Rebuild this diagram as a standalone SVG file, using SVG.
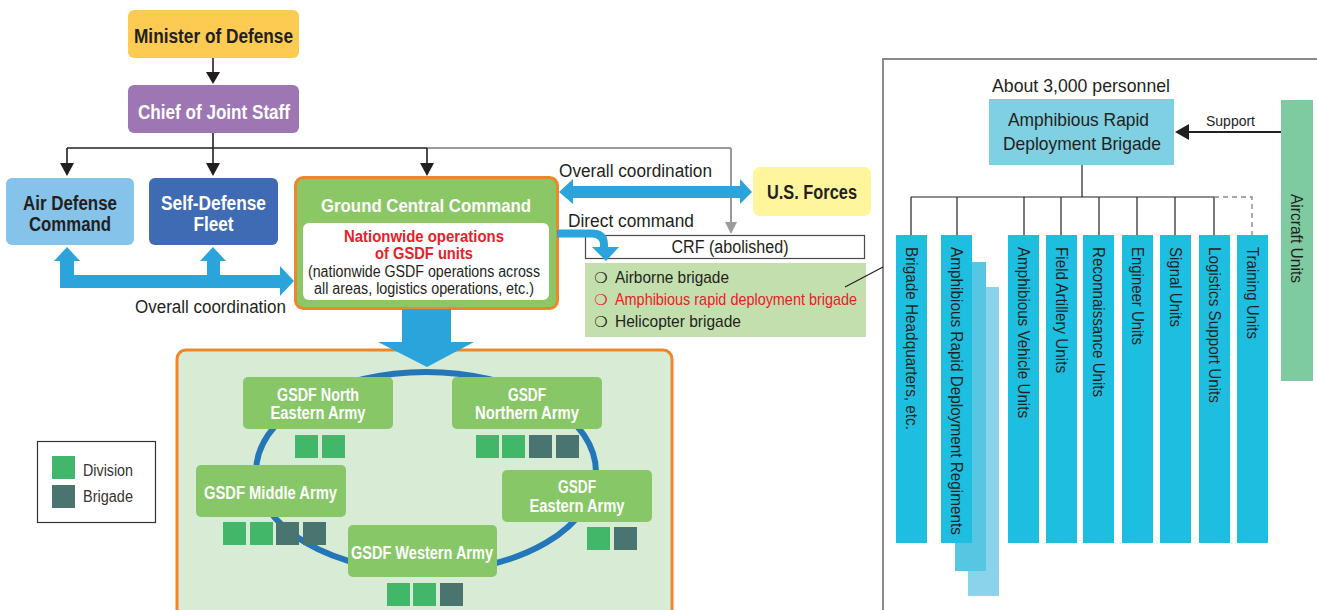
<svg xmlns="http://www.w3.org/2000/svg" width="1317" height="610" viewBox="0 0 1317 610">
<style>
text{font-family:"Liberation Sans Narrow","Liberation Sans",Arial,sans-serif;fill:#231F20;}
.b{font-weight:bold;}
.w{fill:#FFFFFF;}
.r{fill:#E8202A;}
.c{text-anchor:middle;}
.ln{stroke:#231F20;stroke-width:1.6;fill:none;}
.thin{stroke:#231F20;stroke-width:1.2;fill:none;}
.blue{fill:#2BA4DC;}
.col{fill:#1DBEE0;}
.army{fill:#88C767;}
.div{fill:#42B76A;}
.brg{fill:#497470;}
.sym{font-family:"DejaVu Sans",sans-serif;font-size:15px;}
</style>

<!-- bottom area background -->
<g id="ground-area">
  <rect x="177" y="350" width="495" height="280" rx="9" fill="#D8EBD5" stroke="#F0862A" stroke-width="3"/>
  <ellipse cx="426" cy="472" rx="170" ry="100" fill="none" stroke="#2377B8" stroke-width="6"/>
</g>

<g id="minister">
  <rect x="128" y="10" width="171" height="48" rx="6" fill="#FDCB52"/>
  <text class="b c" x="213.5" y="43" font-size="20" textLength="159" lengthAdjust="spacingAndGlyphs">Minister of Defense</text>
</g>
<g id="chief">
  <rect x="128" y="85" width="171" height="48" rx="6" fill="#9E76B4"/>
  <text class="b c w" x="214" y="119" font-size="20" textLength="152" lengthAdjust="spacingAndGlyphs">Chief of Joint Staff</text>
</g>
<g id="air-defense">
  <rect x="6" y="178" width="128" height="67" rx="6" fill="#85C3EA"/>
  <text class="b c" x="70" y="210" font-size="20" textLength="94" lengthAdjust="spacingAndGlyphs">Air Defense</text>
  <text class="b c" x="70" y="231" font-size="20" textLength="82" lengthAdjust="spacingAndGlyphs">Command</text>
</g>
<g id="sdf">
  <rect x="149" y="178" width="129" height="67" rx="6" fill="#3F6BB5"/>
  <text class="b c w" x="213.5" y="210" font-size="20" textLength="105" lengthAdjust="spacingAndGlyphs">Self-Defense</text>
  <text class="b c w" x="213.5" y="231" font-size="20" textLength="40" lengthAdjust="spacingAndGlyphs">Fleet</text>
</g>
<g id="ground-central">
  <rect x="295.5" y="177.5" width="262" height="131" rx="8" fill="#8BC765" stroke="#F0862A" stroke-width="3"/>
  <text class="b c w" x="426" y="212" font-size="19" textLength="210" lengthAdjust="spacingAndGlyphs">Ground Central Command</text>
  <rect x="303" y="223" width="246" height="77" rx="6" fill="#FFFFFF"/>
  <text class="b c r" x="424" y="242" font-size="17" textLength="160" lengthAdjust="spacingAndGlyphs">Nationwide operations</text>
  <text class="b c r" x="424" y="259" font-size="17" textLength="98" lengthAdjust="spacingAndGlyphs">of GSDF units</text>
  <text class="c" x="424" y="277" font-size="16" textLength="232" lengthAdjust="spacingAndGlyphs">(nationwide GSDF operations across</text>
  <text class="c" x="424" y="294" font-size="16" textLength="220" lengthAdjust="spacingAndGlyphs">all areas, logistics operations, etc.)</text>
</g>
<g id="labels">
  <text x="135" y="313" font-size="18" textLength="151" lengthAdjust="spacingAndGlyphs">Overall coordination</text>
  <text x="559" y="177" font-size="18" textLength="153" lengthAdjust="spacingAndGlyphs">Overall coordination</text>
  <text x="568" y="227" font-size="18" textLength="126" lengthAdjust="spacingAndGlyphs">Direct command</text>
</g>
<g id="us-forces">
  <rect x="753" y="167" width="118" height="49" rx="7" fill="#FFF59D"/>
  <text class="b c" x="812" y="199" font-size="20" textLength="90" lengthAdjust="spacingAndGlyphs">U.S. Forces</text>
</g>
<g id="crf">
  <rect x="585.5" y="235.5" width="279" height="23" fill="#FFFFFF" stroke="#4A4A4A" stroke-width="1.2"/>
  <text class="c" x="730" y="253" font-size="18" textLength="117" lengthAdjust="spacingAndGlyphs">CRF (abolished)</text>
</g>
<g id="crf-units">
  <rect x="585" y="263" width="281" height="74" fill="#C3DFAD"/>
  <text class="sym" x="594" y="283">❍</text>
  <text x="615" y="283" font-size="17" textLength="114" lengthAdjust="spacingAndGlyphs">Airborne brigade</text>
  <text class="sym" x="594" y="305" style="fill:#E8202A">❍</text>
  <text class="r" x="615" y="305" font-size="17" textLength="242" lengthAdjust="spacingAndGlyphs">Amphibious rapid deployment brigade</text>
  <text class="sym" x="594" y="327">❍</text>
  <text x="615" y="327" font-size="17" textLength="126" lengthAdjust="spacingAndGlyphs">Helicopter brigade</text>
</g>

<!-- right panel -->
<g id="panel">
  <rect x="883" y="59" width="460" height="580" fill="none" stroke="#8A8A8A" stroke-width="2"/>
  <text class="c" x="1081" y="92" font-size="19" textLength="178" lengthAdjust="spacingAndGlyphs">About 3,000 personnel</text>
</g>
<g id="ardb">
  <rect x="989" y="99" width="185" height="66" fill="#7ED0E2"/>
  <text class="c" x="1078.5" y="126" font-size="19" textLength="141" lengthAdjust="spacingAndGlyphs">Amphibious Rapid</text>
  <text class="c" x="1082" y="150" font-size="19" textLength="158" lengthAdjust="spacingAndGlyphs">Deployment Brigade</text>
</g>
<g id="support-label">
  <text x="1206" y="126" font-size="14" textLength="49" lengthAdjust="spacingAndGlyphs">Support</text>
</g>
<g id="aircraft">
  <rect x="1281" y="100" width="32" height="281" fill="#7ECBA1"/>
  <text transform="translate(1297,194) rotate(90)" x="0" y="6" font-size="17" textLength="89" lengthAdjust="spacingAndGlyphs">Aircraft Units</text>
</g>
<g id="col-hq">
  <rect class="col" x="896" y="235" width="31" height="308"/>
  <text transform="translate(911.5,247) rotate(90)" x="0" y="6" font-size="17" textLength="183" lengthAdjust="spacingAndGlyphs">Brigade Headquarters, etc.</text>
</g>
<g id="col-regiments">
  <rect x="968" y="287" width="31" height="309" fill="#8AD3EA"/>
  <rect x="955" y="262" width="31" height="309" fill="#57C6E3"/>
  <rect class="col" x="941" y="235" width="31" height="308"/>
  <text transform="translate(956.5,247) rotate(90)" x="0" y="6" font-size="17" textLength="288" lengthAdjust="spacingAndGlyphs">Amphibious Rapid Deployment Regiments</text>
</g>
<g id="col-vehicle">
  <rect class="col" x="1008" y="235" width="31" height="308"/>
  <text transform="translate(1023.5,247) rotate(90)" x="0" y="6" font-size="17" textLength="171" lengthAdjust="spacingAndGlyphs">Amphibious Vehicle Units</text>
</g>
<g id="col-artillery">
  <rect class="col" x="1046" y="235" width="31" height="308"/>
  <text transform="translate(1061.5,247) rotate(90)" x="0" y="6" font-size="17" textLength="126" lengthAdjust="spacingAndGlyphs">Field Artillery Units</text>
</g>
<g id="col-recon">
  <rect class="col" x="1083" y="235" width="31" height="308"/>
  <text transform="translate(1098.5,247) rotate(90)" x="0" y="6" font-size="17" textLength="150" lengthAdjust="spacingAndGlyphs">Reconnaissance Units</text>
</g>
<g id="col-engineer">
  <rect class="col" x="1122" y="235" width="31" height="308"/>
  <text transform="translate(1137.5,247) rotate(90)" x="0" y="6" font-size="17" textLength="98" lengthAdjust="spacingAndGlyphs">Engineer Units</text>
</g>
<g id="col-signal">
  <rect class="col" x="1160" y="235" width="31" height="308"/>
  <text transform="translate(1175.5,247) rotate(90)" x="0" y="6" font-size="17" textLength="80" lengthAdjust="spacingAndGlyphs">Signal Units</text>
</g>
<g id="col-logistics">
  <rect class="col" x="1199" y="235" width="31" height="308"/>
  <text transform="translate(1214.5,247) rotate(90)" x="0" y="6" font-size="17" textLength="156" lengthAdjust="spacingAndGlyphs">Logistics Support Units</text>
</g>
<g id="col-training">
  <rect class="col" x="1237" y="235" width="31" height="308"/>
  <text transform="translate(1252.5,247) rotate(90)" x="0" y="6" font-size="17" textLength="92" lengthAdjust="spacingAndGlyphs">Training Units</text>
</g>

<!-- armies -->
<g id="army-north-eastern">
  <rect class="army" x="243" y="377" width="150" height="52" rx="5"/>
  <text class="b c w" x="318" y="401" font-size="18" textLength="82" lengthAdjust="spacingAndGlyphs">GSDF North</text>
  <text class="b c w" x="318" y="419" font-size="18" textLength="95" lengthAdjust="spacingAndGlyphs">Eastern Army</text>
  <rect class="div" x="295" y="435" width="23" height="23"/>
  <rect class="div" x="322" y="435" width="23" height="23"/>
</g>
<g id="army-northern">
  <rect class="army" x="452" y="377" width="150" height="52" rx="5"/>
  <text class="b c w" x="527" y="401" font-size="18" textLength="38" lengthAdjust="spacingAndGlyphs">GSDF</text>
  <text class="b c w" x="527" y="419" font-size="18" textLength="104" lengthAdjust="spacingAndGlyphs">Northern Army</text>
  <rect class="div" x="476" y="435" width="23" height="23"/>
  <rect class="div" x="502" y="435" width="23" height="23"/>
  <rect class="brg" x="529" y="435" width="23" height="23"/>
  <rect class="brg" x="556" y="435" width="23" height="23"/>
</g>
<g id="army-middle">
  <rect class="army" x="196" y="465" width="150" height="52" rx="5"/>
  <text class="b c w" x="270.5" y="499" font-size="18" textLength="133" lengthAdjust="spacingAndGlyphs">GSDF Middle Army</text>
  <rect class="div" x="223" y="522" width="23" height="23"/>
  <rect class="div" x="250" y="522" width="23" height="23"/>
  <rect class="brg" x="276" y="522" width="23" height="23"/>
  <rect class="brg" x="303" y="522" width="23" height="23"/>
</g>
<g id="army-eastern">
  <rect class="army" x="502" y="470" width="150" height="52" rx="5"/>
  <text class="b c w" x="577" y="493" font-size="18" textLength="38" lengthAdjust="spacingAndGlyphs">GSDF</text>
  <text class="b c w" x="577" y="512" font-size="18" textLength="95" lengthAdjust="spacingAndGlyphs">Eastern Army</text>
  <rect class="div" x="587" y="527" width="23" height="23"/>
  <rect class="brg" x="614" y="527" width="23" height="23"/>
</g>
<g id="army-western">
  <rect class="army" x="348" y="525" width="149" height="52" rx="5"/>
  <text class="b c w" x="422" y="559" font-size="18" textLength="142" lengthAdjust="spacingAndGlyphs">GSDF Western Army</text>
  <rect class="div" x="387" y="583" width="23" height="23"/>
  <rect class="div" x="413" y="583" width="23" height="23"/>
  <rect class="brg" x="440" y="583" width="23" height="23"/>
</g>

<g id="legend">
  <rect x="37.5" y="441.5" width="118" height="81" fill="#FFFFFF" stroke="#333333" stroke-width="1.2"/>
  <rect class="div" x="52" y="456" width="23" height="23"/>
  <rect class="brg" x="52" y="485" width="23" height="23"/>
  <text x="83" y="476" font-size="16" textLength="50" lengthAdjust="spacingAndGlyphs" style="fill:#333">Division</text>
  <text x="83" y="502" font-size="16" textLength="50" lengthAdjust="spacingAndGlyphs" style="fill:#333">Brigade</text>
</g>

<g id="connectors">
  <!-- Minister -> Chief -->
  <line class="ln" x1="213" y1="58" x2="213" y2="73"/>
  <polygon points="206,72 220,72 213,84" fill="#231F20"/>
  <!-- Chief -> CRF (gray) -->
  <line x1="427" y1="148" x2="731" y2="148" style="stroke:#9A9A9A;stroke-width:2"/>
  <line x1="731" y1="148" x2="731" y2="223" style="stroke:#9A9A9A;stroke-width:2"/>
  <polygon points="725,222 737,222 731,234" fill="#9A9A9A"/>
  <!-- Chief -> branches -->
  <line class="ln" x1="213" y1="133" x2="213" y2="148"/>
  <line class="ln" x1="67" y1="148" x2="427" y2="148"/>
  <line class="ln" x1="67" y1="148" x2="67" y2="164"/>
  <line class="ln" x1="213" y1="148" x2="213" y2="164"/>
  <line class="ln" x1="427" y1="148" x2="427" y2="164"/>
  <polygon points="60,163 74,163 67,176" fill="#231F20"/>
  <polygon points="206,163 220,163 213,176" fill="#231F20"/>
  <polygon points="420,163 434,163 427,176" fill="#231F20"/>
  <!-- bottom-left coordination arrow -->
  <polygon class="blue" points="67,247 80,261 74,261 74,275 207,275 207,261 200,261 213,247 226,261 220,261 220,275 280,275 280,266 294,281 280,296 280,288 60,288 60,261 54,261"/>
  <!-- Ground <-> US Forces -->
  <polygon class="blue" points="559,192 573,179 573,186 740,186 740,179 752,192 740,204 740,198 573,198 573,204"/>
  <!-- Direct command -->
  <path d="M557,233.5 L592,233.5 Q604,233.5 604,245 L604,249" fill="none" stroke="#2BA4DC" stroke-width="8"/>
  <polygon class="blue" points="592,247 619,247 606,261"/>
  <!-- Ground -> armies -->
  <polygon class="blue" points="402,309 451,309 451,342 474,342 427,367 378,342 402,342"/>
  <!-- CRF to panel -->
  <line class="thin" x1="845" y1="287" x2="883" y2="267"/>
  <!-- Support -->
  <line x1="1281" y1="132" x2="1188" y2="132" stroke="#231F20" stroke-width="2"/>
  <polygon points="1189,124 1189,140 1175,132" fill="#231F20"/>
  <!-- brigade tree -->
  <line class="thin" x1="1082" y1="165" x2="1082" y2="197"/>
  <line class="thin" x1="911" y1="197" x2="1214" y2="197"/>
  <line class="thin" x1="911" y1="197" x2="911" y2="235"/>
  <line class="thin" x1="957" y1="197" x2="957" y2="235"/>
  <line class="thin" x1="1024" y1="197" x2="1024" y2="235"/>
  <line class="thin" x1="1061" y1="197" x2="1061" y2="235"/>
  <line class="thin" x1="1099" y1="197" x2="1099" y2="235"/>
  <line class="thin" x1="1137" y1="197" x2="1137" y2="235"/>
  <line class="thin" x1="1175" y1="197" x2="1175" y2="235"/>
  <line class="thin" x1="1214" y1="197" x2="1214" y2="235"/>
  <polyline points="1214,197 1252,197 1252,235" fill="none" stroke="#888" stroke-width="1.4" stroke-dasharray="5,4"/>
</g>
</svg>
